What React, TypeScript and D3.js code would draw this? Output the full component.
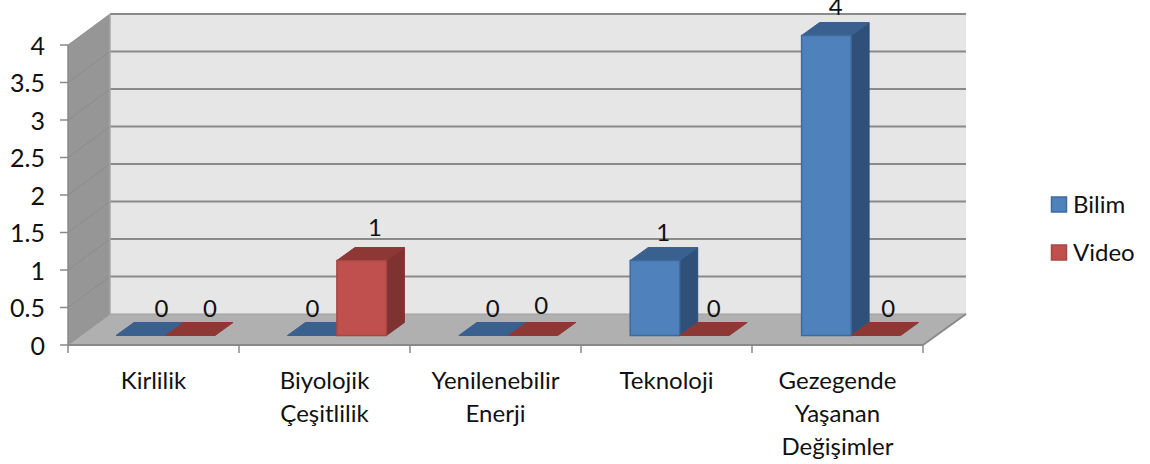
import React from 'react';
import * as d3 from 'd3';

const categories = [
  ['Kirlilik'],
  ['Biyolojik', 'Çeşitlilik'],
  ['Yenilenebilir', 'Enerji'],
  ['Teknoloji'],
  ['Gezegende', 'Yaşanan', 'Değişimler'],
];
const categoryKeys = categories.map((c) => c.join(' '));
const bilim = [0, 0, 0, 1, 4];
const video = [0, 1, 0, 0, 0];
const yTicks = [0, 0.5, 1, 1.5, 2, 2.5, 3, 3.5, 4];

const font = 'Lato, Carlito, sans-serif';
const fontSize = 24;
const textColor = '#111';
const grid = '#8a8a8a';

const depthX = 42;
const depthY = 31;
const barDepthX = 18;
const barDepthY = 13;
const barLift = 9.5;
const barW = 49.5;

const x = d3.scaleBand<string>().domain(categoryKeys).range([68, 923]);
const barX = d3.scaleBand<string>().domain(categoryKeys).range([68, 925]);
const y = d3.scaleLinear().domain([0, 4]).range([345, 45]);

// hand nudges for the data labels, the original placement isn't regular
const bilimNudge = [
  [45.5, -14],
  [25, -14],
  [34, -14],
  [33, -15],
  [34, -16],
];
const videoNudge = [
  [44.5, -14],
  [38, -20],
  [33, -17],
  [34, -14],
  [37, -14],
];

const pts = (p: number[][]) => p.map((d) => d.join(',')).join(' ');

function Bar({ left, value, front, top, side, edge }: any) {
  const t = y(value) - barLift;
  const b = y(0) - barLift;
  const r = left + barW;
  return (
    <g>
      {value > 0 && (
        <polygon
          points={pts([[r, t], [r + barDepthX, t - barDepthY], [r + barDepthX, b - barDepthY], [r, b]])}
          fill={side}
          stroke={side}
        />
      )}
      <polygon
        points={pts([[left, t], [r, t], [r + barDepthX, t - barDepthY], [left + barDepthX, t - barDepthY]])}
        fill={top}
        stroke={top}
      />
      {value > 0 && <rect x={left} y={t} width={barW} height={b - t} fill={front} stroke={edge} strokeWidth={1.5} />}
    </g>
  );
}

export default function App() {
  const step = x.step();
  const xEnd = x.range()[1];
  const xStart = x.range()[0];
  return (
    <svg width={1150} height={464} style={{ position: 'absolute', left: 0, top: 0 }} fontFamily={font}>
      <rect width={1150} height={464} fill="#fff" />

      {/* back wall */}
      <rect
        x={xStart + depthX}
        y={y(4) - depthY}
        width={xEnd + depthX + 1 - (xStart + depthX)}
        height={y(0) - y(4)}
        fill="#e6e6e6"
      />
      {/* left wall */}
      <polygon
        points={pts([
          [xStart, y(4)],
          [xStart + depthX, y(4) - depthY],
          [xStart + depthX, y(0) - depthY],
          [xStart, y(0)],
        ])}
        fill="#969696"
      />
      {/* floor */}
      <polygon
        points={pts([
          [xStart, y(0)],
          [xEnd, y(0)],
          [xEnd + depthX + 1, y(0) - depthY],
          [xStart + depthX, y(0) - depthY],
        ])}
        fill="#b0b0b0"
      />

      {yTicks.map((t) => (
        <g key={t}>
          <line
            x1={xStart + depthX}
            x2={xEnd + depthX + 1}
            y1={y(t) - depthY}
            y2={y(t) - depthY}
            stroke={t > 0 ? grid : '#a0a0a0'}
            strokeWidth={t > 0 ? 2 : 1}
          />
          <line x1={xStart} x2={xStart + depthX} y1={y(t)} y2={y(t) - depthY} stroke={grid} strokeWidth={1} opacity={0.8} />
          <line x1={xStart - 8} x2={xStart} y1={y(t)} y2={y(t)} stroke={grid} strokeWidth={1.5} />
          <text x={45} y={y(t) + 1} dy="0.35em" textAnchor="end" fontSize={25} fill={textColor}>
            {t}
          </text>
        </g>
      ))}

      <line x1={xStart + depthX} x2={xStart + depthX} y1={y(4) - depthY} y2={y(0) - depthY} stroke="#a6a6a6" strokeWidth={1.5} />
      <line x1={xStart} x2={xStart} y1={y(4)} y2={y(0) + 8} stroke={grid} strokeWidth={1.5} />
      <line x1={xStart} x2={xEnd} y1={y(0)} y2={y(0)} stroke={grid} strokeWidth={2} />
      <line x1={xEnd} x2={xEnd + depthX + 1} y1={y(0)} y2={y(0) - depthY} stroke={grid} strokeWidth={2} />

      {categoryKeys.map((k, i) => (
        <g key={k}>
          <line
            x1={x(k)! + step}
            x2={x(k)! + step}
            y1={y(0)}
            y2={y(0) + 8}
            stroke={grid}
            strokeWidth={1.5}
          />
          <Bar left={barX(k)! + 48} value={bilim[i]} front="#4f81bd" top="#3a6090" side="#2f5078" edge="#3f6a9c" />
          <Bar left={barX(k)! + 48 + barW} value={video[i]} front="#c0504d" top="#8e3836" side="#7e3331" edge="#a84643" />
        </g>
      ))}

      {categoryKeys.map((k, i) => (
        <g key={k} fontSize={fontSize} fill={textColor} textAnchor="middle">
          <text x={barX(k)! + 48 + bilimNudge[i][0]} y={y(bilim[i]) - barLift + bilimNudge[i][1] - barDepthY} dy="0.35em">
            {bilim[i]}
          </text>
          <text
            x={barX(k)! + 48 + barW + videoNudge[i][0]}
            y={y(video[i]) - barLift + videoNudge[i][1] - barDepthY}
            dy="0.35em"
          >
            {video[i]}
          </text>
          {categories[i].map((line, j) => (
            <text key={line} x={x(k)! + x.bandwidth() / 2} y={381 + j * 33} dy="0.35em">
              {line}
            </text>
          ))}
        </g>
      ))}

      {/* legend */}
      {[
        ['Bilim', '#4f81bd', '#3f6a9c', 205],
        ['Video', '#c0504d', '#a84643', 253],
      ].map(([name, fill, edge, cy]: any) => (
        <g key={name}>
          <rect x={1051.5} y={cy - 8} width={15} height={15} fill={fill} stroke={edge} strokeWidth={1.5} />
          <text x={1073} y={cy} dy="0.35em" fontSize={fontSize} fill={textColor}>
            {name}
          </text>
        </g>
      ))}
    </svg>
  );
}
